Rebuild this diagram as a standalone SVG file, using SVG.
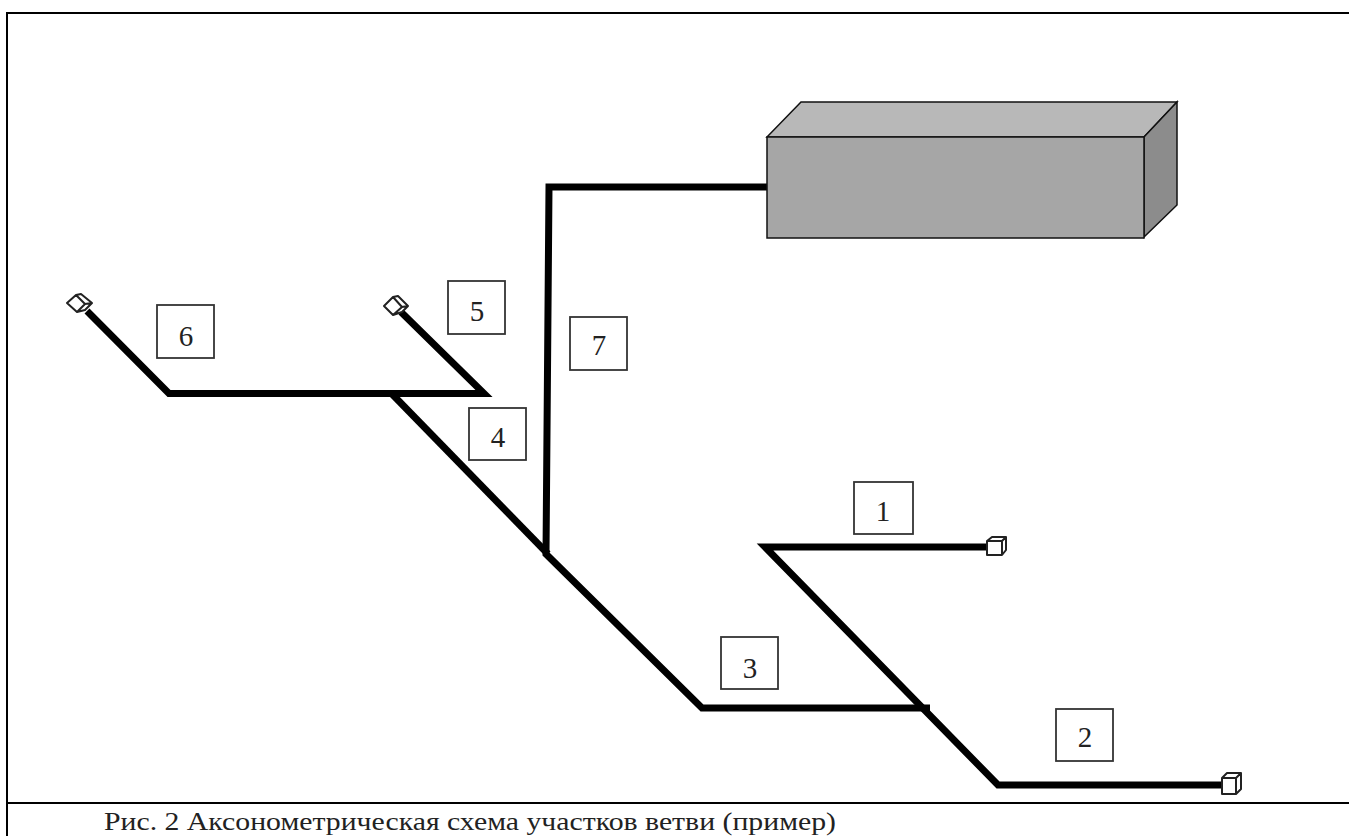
<svg xmlns="http://www.w3.org/2000/svg" width="1349" height="836" viewBox="0 0 1349 836">
<style>
.b{fill:#fff;stroke:#333;stroke-width:1.8}
.n{font:29px "Liberation Serif",serif;fill:#222;text-anchor:middle}
.p{fill:none;stroke:#000;stroke-width:7;stroke-linejoin:miter}
.c{fill:#fff;stroke:#222;stroke-width:2;stroke-linejoin:round}
.f{fill:none;stroke:#000;stroke-width:2}
</style>
<rect width="1349" height="836" fill="#fff"/>
<g id="frame"><path class="f" d="M1349 13H7V836M7 803H1349"/></g>
<g id="connectors">
<path class="p" d="M87 311L169 393.500H484L401 312"/>
<path class="p" d="M392 394L548 554"/>
<path class="p" d="M767 187H549L546 554L702 708H930"/>
<path class="p" d="M986 547H765L998 785H1222"/>
</g>
<g id="tank">
<path d="M767 137L801 102H1177L1144 137Z" fill="#b8b8b8" stroke="#111" stroke-width="1.500"/>
<path d="M1144 137L1177 102V205L1144 237Z" fill="#8c8c8c" stroke="#111" stroke-width="1.500"/>
<rect x="767" y="137" width="377" height="101" fill="#a6a6a6" stroke="#111" stroke-width="1.500"/>
</g>
<g id="outlet1"><path class="c" d="M987 541L992 537H1006V550L1002 555H987Z M987 541H1002V555 M1002 541L1006 537"/></g>
<g id="outlet2"><path class="c" d="M1222 778L1227 773H1241V789L1236 794H1222Z M1222 778H1236V794 M1236 778L1241 773"/></g>
<g id="outlet5"><path class="c" d="M384 306L393 297L398 296L408 306L402 312L393 315Z M393 297L402 307L393 315 M402 307L408 306"/></g>
<g id="outlet6"><path class="c" d="M67 303L76 295L81 294L92 303L85 310L77 312Z M76 295L85 304L77 312 M85 304L92 303"/></g>
<g id="label1"><rect class="b" x="854" y="482" width="59" height="52"/><text class="n" x="883" y="521">1</text></g>
<g id="label2"><rect class="b" x="1056" y="709" width="57" height="52"/><text class="n" x="1085" y="747">2</text></g>
<g id="label3"><rect class="b" x="721" y="637" width="57" height="52"/><text class="n" x="750" y="678">3</text></g>
<g id="label4"><rect class="b" x="469" y="408" width="57" height="52"/><text class="n" x="498" y="447">4</text></g>
<g id="label5"><rect class="b" x="448" y="281" width="57" height="53"/><text class="n" x="477" y="321">5</text></g>
<g id="label6"><rect class="b" x="157" y="305" width="57" height="53"/><text class="n" x="186" y="346">6</text></g>
<g id="label7"><rect class="b" x="570" y="317" width="57" height="53"/><text class="n" x="599" y="355">7</text></g>
<text id="caption" x="104" y="830" font-family="'Liberation Serif',serif" font-size="26" fill="#222" textLength="732" lengthAdjust="spacingAndGlyphs">Рис. 2 Аксонометрическая схема участков ветви (пример)</text>
</svg>
